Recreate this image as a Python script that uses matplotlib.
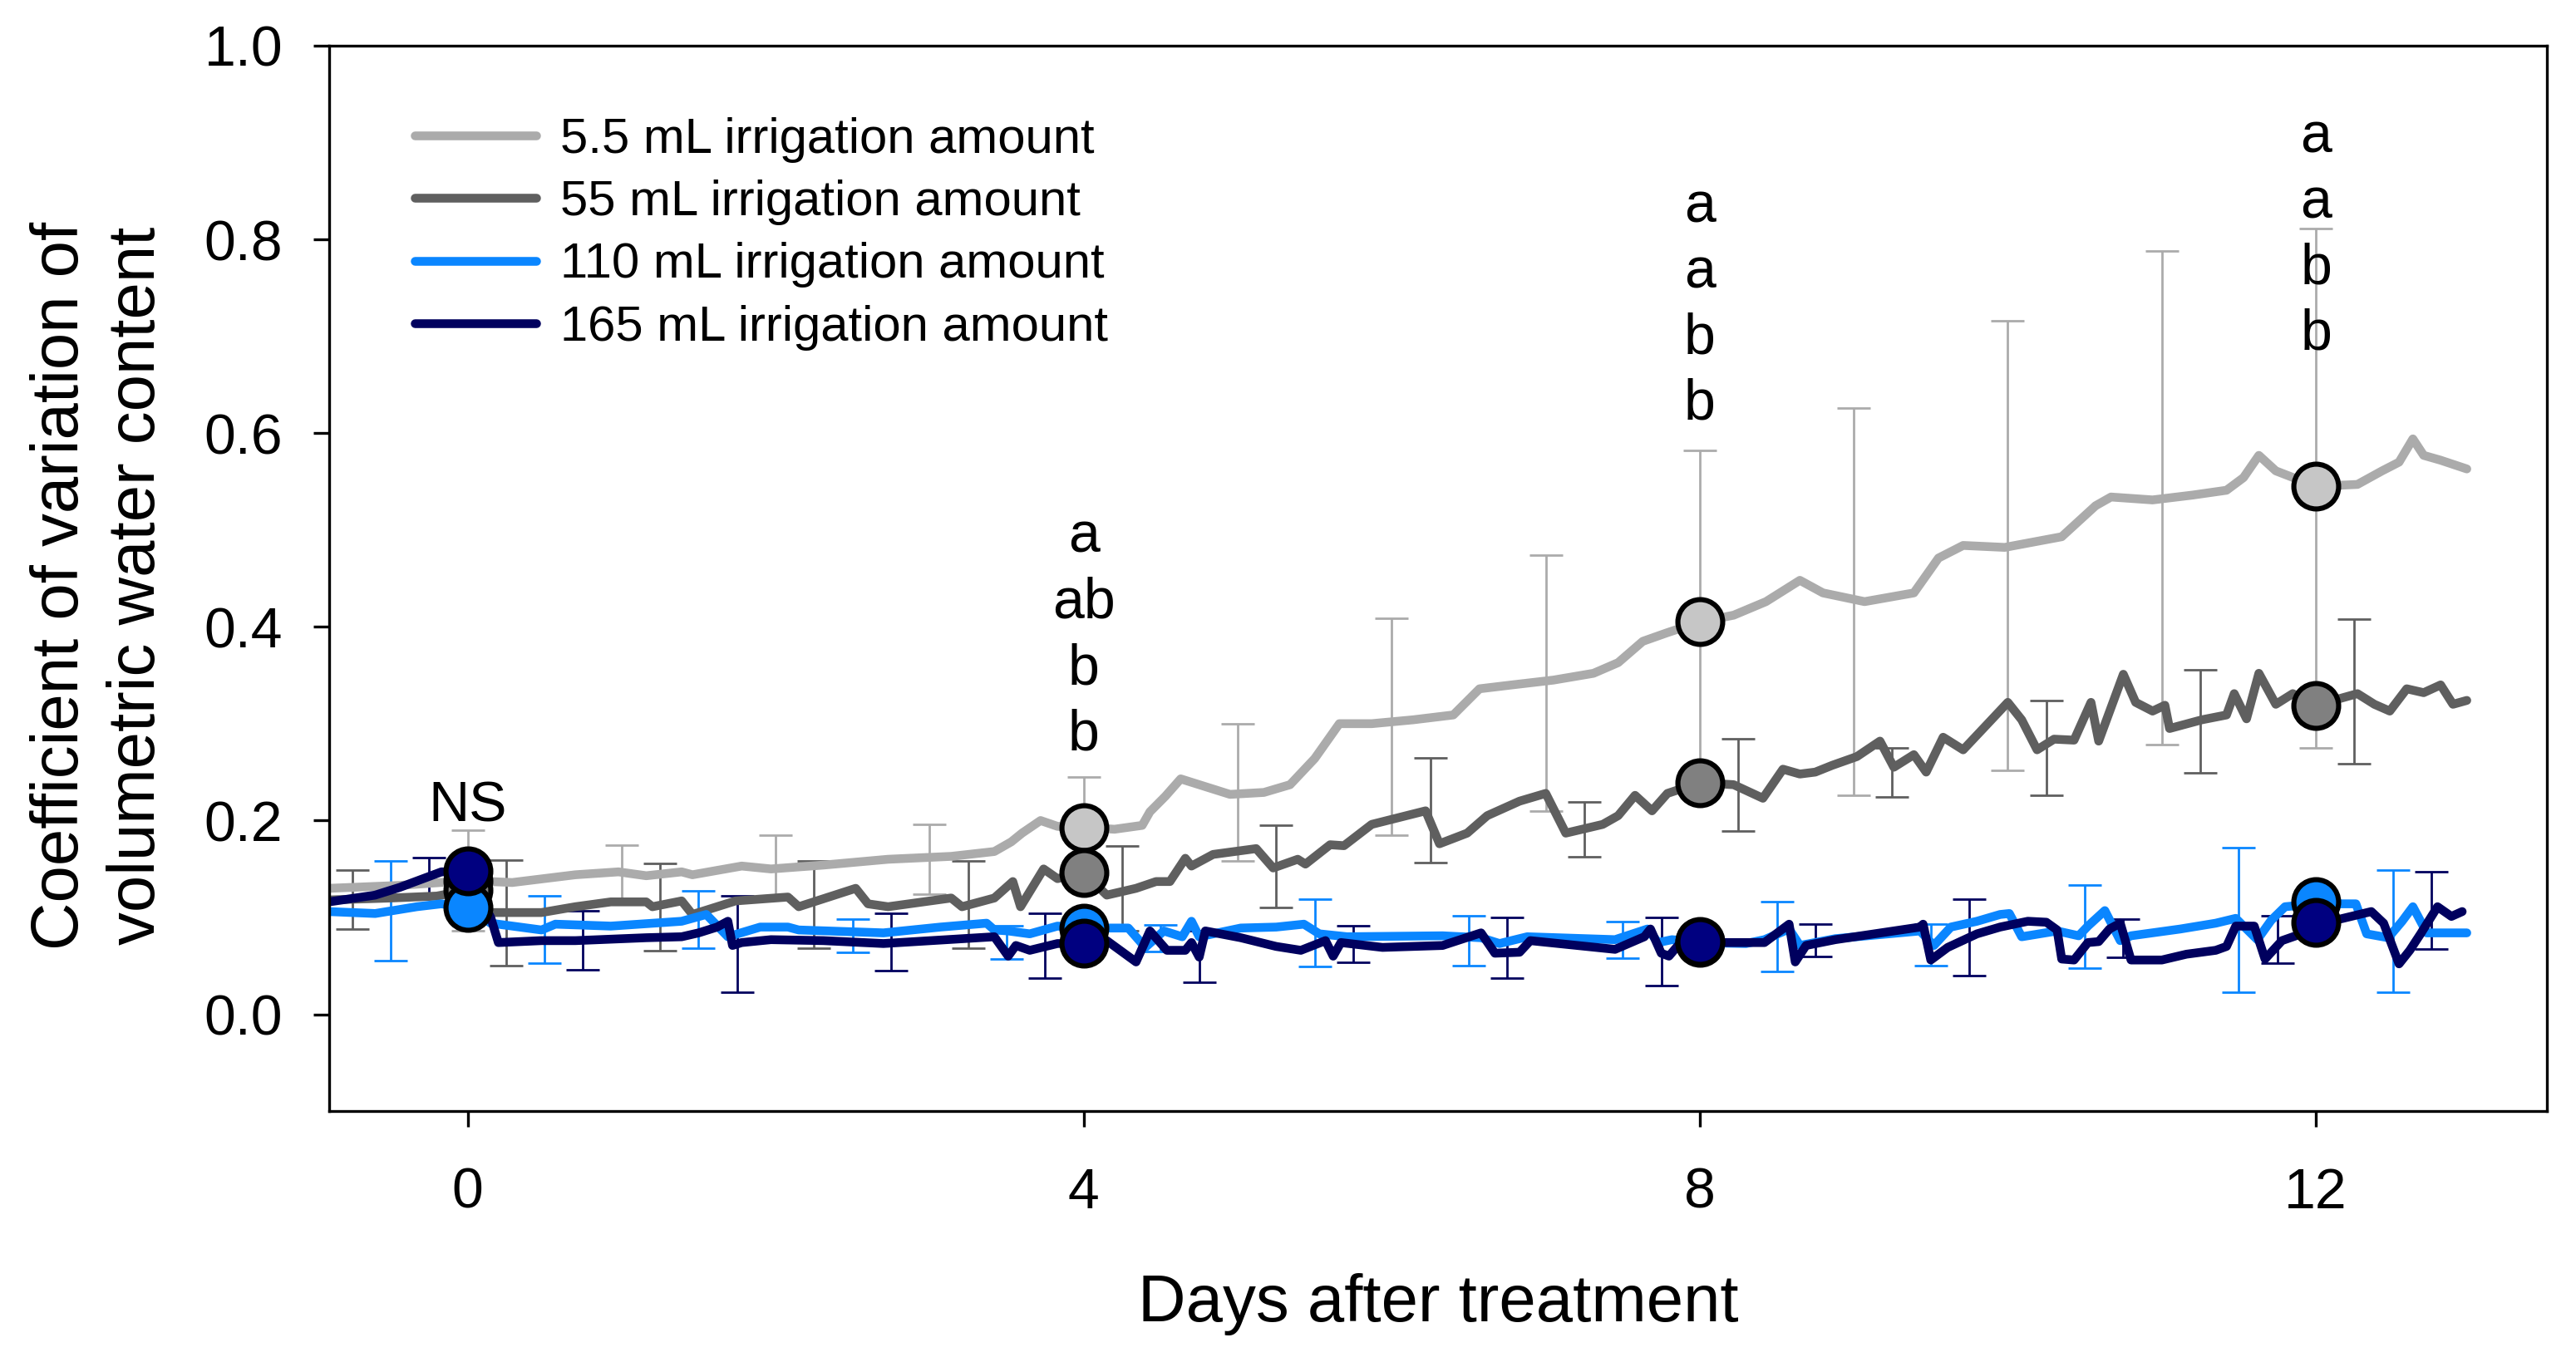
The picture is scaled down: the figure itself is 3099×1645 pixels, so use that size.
import matplotlib
matplotlib.use("Agg")
import matplotlib.pyplot as plt

plt.rcParams['font.family'] = ['Liberation Sans', 'DejaVu Sans']

# ---------------- data ----------------
labels = ["5.5 mL irrigation amount", "55 mL irrigation amount",
          "110 mL irrigation amount", "165 mL irrigation amount"]

d_55 = [-0.9, -0.44, 0.0, 0.29, 0.7, 0.98, 1.16, 1.39, 1.46, 1.78, 1.97, 2.31, 2.73, 3.14, 3.42,
        3.53, 3.6, 3.72, 3.83, 4.0, 4.2, 4.38, 4.43, 4.53, 4.63, 4.79, 4.95, 5.17, 5.34, 5.5, 5.66,
        5.87, 6.14, 6.4, 6.57, 6.78, 7.05, 7.31, 7.47, 7.63, 7.79, 8.0, 8.22, 8.43, 8.65, 8.8,
        9.07, 9.39, 9.55, 9.71, 9.98, 10.35, 10.57, 10.67, 10.94, 11.2, 11.42, 11.53, 11.63,
        11.74, 12.0, 12.27, 12.43, 12.54, 12.63, 12.7, 12.81, 12.98]
v_55 = [0.13, 0.133, 0.138, 0.136, 0.144, 0.147, 0.143, 0.147, 0.144, 0.153, 0.15, 0.154, 0.16,
        0.163, 0.168, 0.178, 0.187, 0.2, 0.194, 0.193, 0.191, 0.195, 0.209, 0.225, 0.243, 0.235,
        0.227, 0.229, 0.237, 0.264, 0.3, 0.3, 0.304, 0.309, 0.336, 0.34, 0.345, 0.352, 0.363,
        0.385, 0.394, 0.405, 0.412, 0.426, 0.448, 0.435, 0.426, 0.435, 0.471, 0.484, 0.482,
        0.493, 0.525, 0.534, 0.531, 0.536, 0.541, 0.554, 0.577, 0.561, 0.545, 0.547, 0.561,
        0.57, 0.594, 0.577, 0.572, 0.563]

d_550 = [-0.9, -0.5, -0.2, 0.0, 0.15, 0.48, 0.7, 0.93, 1.16, 1.2, 1.39, 1.46, 1.62, 1.74, 2.08,
         2.15, 2.52, 2.6, 2.73, 3.14, 3.21, 3.42, 3.54, 3.59, 3.74, 3.83, 4.0, 4.15, 4.34, 4.47,
         4.56, 4.66, 4.7, 4.84, 5.12, 5.23, 5.39, 5.44, 5.6, 5.69, 5.87, 6.22, 6.31, 6.49, 6.62,
         6.83, 7.0, 7.13, 7.37, 7.47, 7.58, 7.69, 7.79, 8.0, 8.22, 8.41, 8.54, 8.65, 8.75, 8.86,
         9.02, 9.17, 9.26, 9.39, 9.47, 9.58, 9.71, 9.87, 10.0, 10.09, 10.19, 10.3, 10.43, 10.54,
         10.59, 10.75, 10.83, 10.94, 11.02, 11.05, 11.26, 11.42, 11.47, 11.55, 11.63, 11.74,
         11.85, 12.0, 12.27, 12.38, 12.48, 12.59, 12.7, 12.81, 12.89, 12.98]
v_550 = [0.118, 0.12, 0.122, 0.128, 0.105, 0.105, 0.111, 0.116, 0.116, 0.111, 0.117, 0.103,
         0.111, 0.117, 0.121, 0.111, 0.13, 0.114, 0.111, 0.12, 0.111, 0.12, 0.137, 0.111, 0.15,
         0.14, 0.146, 0.123, 0.13, 0.137, 0.137, 0.161, 0.153, 0.165, 0.171, 0.151, 0.16, 0.155,
         0.175, 0.174, 0.196, 0.21, 0.176, 0.187, 0.205, 0.22, 0.228, 0.187, 0.196, 0.205, 0.226,
         0.21, 0.228, 0.239, 0.237, 0.223, 0.253, 0.248, 0.25, 0.257, 0.266, 0.282, 0.255, 0.268,
         0.25, 0.286, 0.273, 0.3, 0.322, 0.304, 0.273, 0.284, 0.283, 0.322, 0.282, 0.351, 0.322,
         0.313, 0.319, 0.295, 0.304, 0.309, 0.331, 0.305, 0.352, 0.32, 0.331, 0.319, 0.331, 0.32,
         0.313, 0.336, 0.332, 0.34, 0.32, 0.324]

d_110 = [-0.9, -0.6, -0.33, -0.17, 0.0, 0.15, 0.48, 0.57, 0.93, 1.39, 1.55, 1.69, 1.9, 2.08, 2.15,
         2.7, 3.07, 3.37, 3.42, 3.51, 3.65, 3.83, 4.0, 4.1, 4.29, 4.4, 4.52, 4.64, 4.7, 4.75, 5.02,
         5.25, 5.43, 5.53, 5.71, 6.33, 6.58, 6.7, 6.88, 7.45, 7.66, 7.73, 7.82, 8.0, 8.3, 8.42,
         8.58, 8.65, 8.88, 9.43, 9.52, 9.63, 9.8, 9.95, 10.01, 10.09, 10.32, 10.46, 10.52, 10.63,
         10.73, 10.8, 11.12, 11.35, 11.48, 11.62, 11.71, 11.8, 12.0, 12.15, 12.26, 12.33, 12.47,
         12.56, 12.63, 12.72, 12.98]
v_110 = [0.106, 0.104, 0.111, 0.114, 0.11, 0.094, 0.087, 0.093, 0.091, 0.096, 0.103, 0.08, 0.09,
         0.09, 0.087, 0.084, 0.09, 0.094, 0.087, 0.086, 0.083, 0.091, 0.089, 0.089, 0.089, 0.069,
         0.086, 0.08, 0.096, 0.08, 0.089, 0.09, 0.093, 0.083, 0.08, 0.081, 0.079, 0.073, 0.08,
         0.077, 0.088, 0.074, 0.077, 0.074, 0.073, 0.077, 0.088, 0.071, 0.078, 0.086, 0.071, 0.09,
         0.096, 0.103, 0.104, 0.08, 0.086, 0.081, 0.091, 0.107, 0.076, 0.081, 0.088, 0.094,
         0.099, 0.077, 0.097, 0.111, 0.114, 0.114, 0.114, 0.083, 0.079, 0.096, 0.111, 0.084,
         0.084]

d_165 = [-0.9, -0.6, -0.44, -0.17, 0.0, 0.15, 0.2, 0.48, 0.7, 1.16, 1.39, 1.5, 1.62, 1.69, 1.72,
         1.78, 1.97, 2.31, 2.7, 3.42, 3.51, 3.56, 3.65, 3.83, 4.0, 4.15, 4.34, 4.43, 4.54, 4.66,
         4.7, 4.75, 4.79, 5.02, 5.25, 5.41, 5.57, 5.62, 5.67, 5.94, 6.33, 6.58, 6.67, 6.83, 6.9,
         7.45, 7.64, 7.68, 7.75, 7.8, 7.87, 8.0, 8.42, 8.58, 8.62, 8.69, 8.88, 9.43, 9.45, 9.5,
         9.61, 9.8, 9.95, 10.13, 10.25, 10.32, 10.35, 10.43, 10.52, 10.59, 10.66, 10.73, 10.8,
         11.0, 11.16, 11.35, 11.42, 11.48, 11.6, 11.67, 11.78, 11.87, 12.0, 12.15, 12.36, 12.44,
         12.54, 12.61, 12.68, 12.79, 12.88, 12.95]
v_165 = [0.116, 0.123, 0.131, 0.147, 0.147, 0.1, 0.074, 0.076, 0.076, 0.079, 0.08, 0.084, 0.09,
         0.096, 0.071, 0.074, 0.077, 0.076, 0.073, 0.08, 0.06, 0.071, 0.066, 0.073, 0.073, 0.076,
         0.054, 0.086, 0.066, 0.066, 0.074, 0.059, 0.086, 0.079, 0.07, 0.066, 0.076, 0.06, 0.074,
         0.069, 0.071, 0.084, 0.063, 0.064, 0.076, 0.067, 0.08, 0.088, 0.063, 0.06, 0.073, 0.074,
         0.074, 0.093, 0.054, 0.071, 0.077, 0.09, 0.093, 0.056, 0.069, 0.083, 0.09, 0.096, 0.095,
         0.087, 0.057, 0.056, 0.074, 0.075, 0.088, 0.094, 0.056, 0.056, 0.062, 0.066, 0.07,
         0.091, 0.091, 0.057, 0.076, 0.081, 0.093, 0.098, 0.106, 0.094, 0.052, 0.066, 0.083,
         0.111, 0.101, 0.106]

# means at the sampling days (circles)
mk_days = [0, 4, 8, 12]
mk_55 = [0.138, 0.193, 0.405, 0.545]
mk_550 = [0.128, 0.146, 0.239, 0.319]
mk_110 = [0.11, 0.089, 0.074, 0.116]
mk_165 = [0.148, 0.073, 0.075, 0.095]

# error bars (mean, SD)
eb_d_55 = [0, 1, 2, 3, 4, 5, 6, 7, 8, 9, 10, 11, 12]
eb_m_55 = [0.138, 0.147, 0.1535, 0.16, 0.193, 0.229, 0.297, 0.342, 0.405, 0.426, 0.484, 0.533, 0.543]
eb_s_55 = [0.052, 0.028, 0.0315, 0.036, 0.052, 0.071, 0.112, 0.132, 0.177, 0.2, 0.232, 0.255, 0.268]

eb_d_550 = [-0.75, 0.25, 1.25, 2.25, 3.25, 4.25, 5.25, 6.25, 7.25, 8.25, 9.25, 10.25, 11.25, 12.25]
eb_m_550 = [0.1185, 0.1045, 0.111, 0.113, 0.113, 0.13, 0.1525, 0.211, 0.191, 0.2365, 0.2495,
            0.275, 0.3025, 0.3335]
eb_s_550 = [0.0305, 0.0545, 0.045, 0.045, 0.045, 0.044, 0.0425, 0.054, 0.028, 0.0475, 0.0255,
            0.049, 0.0535, 0.0745]

eb_d_110 = [-0.5, 0.5, 1.5, 2.5, 3.5, 4.5, 5.5, 6.5, 7.5, 8.5, 9.5, 10.5, 11.5, 12.5]
eb_m_110 = [0.1065, 0.0875, 0.0975, 0.081, 0.074, 0.0785, 0.084, 0.076, 0.077, 0.08, 0.0715,
            0.0905, 0.0975, 0.086]
eb_s_110 = [0.0515, 0.0345, 0.0295, 0.017, 0.017, 0.0135, 0.035, 0.026, 0.019, 0.036, 0.0215,
            0.0425, 0.0745, 0.063]

eb_d_165 = [-0.25, 0.75, 1.75, 2.75, 3.75, 4.75, 5.75, 6.75, 7.75, 8.75, 9.75, 10.75, 11.75, 12.75]
eb_m_165 = [0.1413, 0.0765, 0.0725, 0.0745, 0.0705, 0.0595, 0.0725, 0.0685, 0.065, 0.0765,
            0.0795, 0.0785, 0.0775, 0.107]
eb_s_165 = [0.0203, 0.0305, 0.0495, 0.0295, 0.0335, 0.0265, 0.0185, 0.0315, 0.035, 0.0165,
            0.0395, 0.0195, 0.0245, 0.04]

# significance letters (baseline of the first letter, then stacked downward)
ns_day, ns_y = 0, 0.199
sig_days = [4, 8, 12]
sig_letters = [["a", "ab", "b", "b"], ["a", "a", "b", "b"], ["a", "a", "b", "b"]]
sig_first_y = [0.477, 0.818, 0.89]
sig_step = 0.068

x_ticks = [0, 4, 8, 12]
y_ticks = [0.0, 0.2, 0.4, 0.6, 0.8, 1.0]

# ---------------- styling ----------------
line_cols = ['#ABABAB', '#5F5F5F', '#0A86FF', '#00005E']
mark_cols = ['#C6C6C6', '#808080', '#0A86FF', '#000080']

series = [(d_55, v_55, mk_55, eb_d_55, eb_m_55, eb_s_55),
          (d_550, v_550, mk_550, eb_d_550, eb_m_550, eb_s_550),
          (d_110, v_110, mk_110, eb_d_110, eb_m_110, eb_s_110),
          (d_165, v_165, mk_165, eb_d_165, eb_m_165, eb_s_165)]

fig = plt.figure(figsize=(15.495, 8.225), dpi=200)
ax = fig.add_axes([0.1277, 0.1872, 0.9887 - 0.1277, 0.9666 - 0.1872])

handles = []
for i, (dd, vv, mk, ed, em, es) in enumerate(series):
    ax.errorbar(ed, em, yerr=es, fmt='none', ecolor=line_cols[i], elinewidth=1.0,
                capsize=7.3, capthick=1.0, zorder=1 + i * 0.1)
    h, = ax.plot(dd, vv, color=line_cols[i], lw=3.8, solid_joinstyle='round',
                 solid_capstyle='round', zorder=2 + i * 0.1, label=labels[i])
    handles.append(h)

for i, (dd, vv, mk, ed, em, es) in enumerate(series):
    ax.plot(mk_days, mk, linestyle='none', marker='o', ms=19.4, mfc=mark_cols[i],
            mec='black', mew=2.2, zorder=4 + i * 0.1)

ax.set_xlim(-0.9, 13.5)
ax.set_ylim(-0.1, 1.0)
ax.set_xticks(x_ticks)
ax.set_xticklabels([str(t) for t in x_ticks])
ax.set_yticks(y_ticks)
ax.set_yticklabels(["%.1f" % t for t in y_ticks])
ax.tick_params(axis='both', direction='out', length=7, width=1.2, labelsize=24.5,
               top=False, right=False)
ax.tick_params(axis='x', pad=17)
ax.tick_params(axis='y', pad=13)
for s in ax.spines.values():
    s.set_linewidth(1.2)

ax.text(ns_day, ns_y, "NS", ha='center', va='baseline', fontsize=24.5, zorder=6)
for dday, lets, y0 in zip(sig_days, sig_letters, sig_first_y):
    for k, t in enumerate(lets):
        ax.text(dday, y0 - k * sig_step, t, ha='center', va='baseline', fontsize=24.5, zorder=6)

leg = ax.legend(handles=handles, loc='upper left', bbox_to_anchor=(0.0387, 0.933),
                frameon=False, fontsize=21.5, handlelength=2.45, handletextpad=0.48,
                labelspacing=0.34, borderpad=0, borderaxespad=0)
for lh in leg.get_lines():
    lh.set_linewidth(3.8)
    lh.set_solid_capstyle('round')

fig.text((395.7 + 3064) / 2 / 3099, 1 - 1590 / 1645, "Days after treatment",
         ha='center', va='baseline', fontsize=28.7)
fig.text(0.0385, 0.5714, "Coefficient of variation of\nvolumetric water content",
         rotation=90, ha='center', va='center', fontsize=28.7, linespacing=1.3,
         multialignment='center')

fig.savefig("out.png", dpi=200)
